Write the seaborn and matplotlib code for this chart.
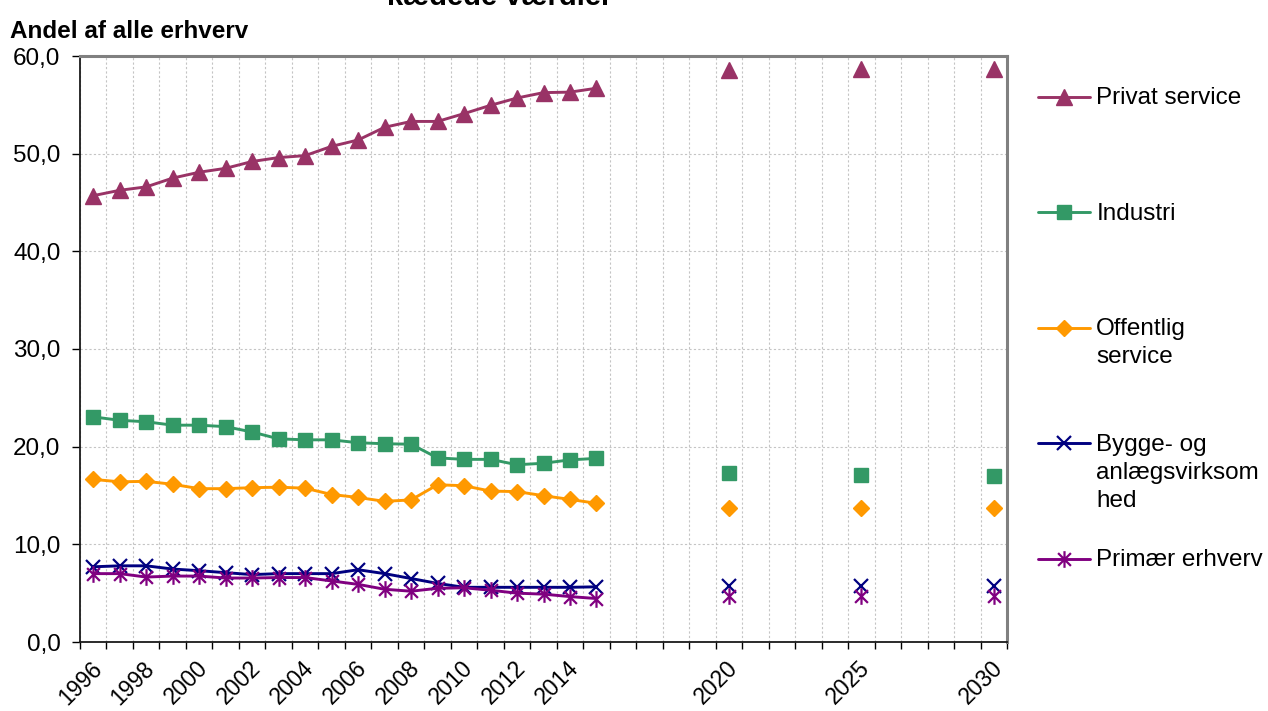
import matplotlib
matplotlib.use("Agg")
import matplotlib.pyplot as plt
import matplotlib.transforms as mtransforms
from matplotlib.path import Path
from matplotlib.ticker import FixedLocator, FixedFormatter
import numpy as np
import pandas as pd
import seaborn as sns

# ---------------- data ----------------
years_hist = [1996, 1997, 1998, 1999, 2000, 2001, 2002, 2003, 2004, 2005,
              2006, 2007, 2008, 2009, 2010, 2011, 2012, 2013, 2014, 2015]
years_proj = [2020, 2025, 2030]

privat_hist = [45.7, 46.25, 46.6, 47.5, 48.1, 48.5, 49.2, 49.6, 49.8, 50.75,
               51.4, 52.7, 53.3, 53.3, 54.1, 54.95, 55.7, 56.25, 56.3, 56.7]
privat_proj = [58.6, 58.7, 58.7]

industri_hist = [23.05, 22.7, 22.55, 22.2, 22.2, 22.05, 21.5, 20.8, 20.7, 20.7,
                 20.4, 20.3, 20.25, 18.85, 18.7, 18.7, 18.15, 18.3, 18.65, 18.8]
industri_proj = [17.3, 17.05, 16.95]

offentlig_hist = [16.65, 16.4, 16.45, 16.15, 15.7, 15.7, 15.8, 15.85, 15.75, 15.1,
                  14.8, 14.4, 14.55, 16.1, 16.0, 15.45, 15.4, 14.98, 14.6, 14.2]
offentlig_proj = [13.7, 13.75, 13.75]

bygge_hist = [7.7, 7.8, 7.8, 7.47, 7.3, 7.1, 6.9, 7.0, 7.0, 7.0,
              7.4, 7.0, 6.5, 6.0, 5.6, 5.6, 5.6, 5.6, 5.6, 5.65]
bygge_proj = [5.77, 5.77, 5.77]

primaer_hist = [7.0, 7.0, 6.65, 6.75, 6.75, 6.55, 6.55, 6.6, 6.6, 6.25,
                5.9, 5.4, 5.2, 5.5, 5.55, 5.3, 5.0, 4.9, 4.65, 4.45]
primaer_proj = [4.76, 4.76, 4.76]

series_names = ["Privat service", "Industri", "Offentlig\nservice",
                "Bygge- og\nanlægsvirksom\nhed", "Primær erhverv"]
hist_values = [privat_hist, industri_hist, offentlig_hist, bygge_hist, primaer_hist]
proj_values = [privat_proj, industri_proj, offentlig_proj, bygge_proj, primaer_proj]

tick_years = [1996, 1998, 2000, 2002, 2004, 2006, 2008, 2010, 2012, 2014,
              2020, 2025, 2030]
tick_labels = [str(y) for y in tick_years]
y_ticks = [0, 10, 20, 30, 40, 50, 60]
y_tick_labels = ["0,0", "10,0", "20,0", "30,0", "40,0", "50,0", "60,0"]

y_axis_title = "Andel af alle erhverv"
chart_title = "kædede værdier"

# ---------------- style ----------------
sns.set_theme(style="white")
plt.rcParams["font.family"] = ["Liberation Sans", "DejaVu Sans"]
plt.rcParams["text.color"] = "black"
plt.rcParams["axes.labelcolor"] = "black"
plt.rcParams["xtick.color"] = "black"
plt.rcParams["ytick.color"] = "black"

colors = ["#993366", "#339966", "#FF9900", "#000080", "#800080"]
asterisk = Path([(-1, -1), (1, 1), (-1, 1), (1, -1), (0, -1.3), (0, 1.3)],
                [Path.MOVETO, Path.LINETO, Path.MOVETO, Path.LINETO,
                 Path.MOVETO, Path.LINETO])
markers = ["^", "s", "D", "x", asterisk]
msizes = [11, 10.5, 8, 10, 12]
mews = [1, 1, 1, 1.6, 1.6]

FS = 17.5
FSX = 16.5

fig = plt.figure(figsize=(12.68, 7.11), dpi=100)
ax = fig.add_axes([80 / 1268, 69 / 711, 927 / 1268, 586 / 711])

handles = []
for name, hv, pv, c, m, ms, mew in zip(series_names, hist_values, proj_values,
                                       colors, markers, msizes, mews):
    df_h = pd.DataFrame({"year": years_hist, "value": hv})
    df_p = pd.DataFrame({"year": years_proj, "value": pv})
    sns.lineplot(data=df_h, x="year", y="value", ax=ax, color=c, linewidth=2.1,
                 marker=m, markersize=ms, markeredgecolor=c, markerfacecolor=c,
                 markeredgewidth=mew, label=name, legend=False, zorder=3)
    handles.append(ax.get_lines()[-1])
    sns.lineplot(data=df_p, x="year", y="value", ax=ax, color=c, linestyle="",
                 marker=m, markersize=ms, markeredgecolor=c, markerfacecolor=c,
                 markeredgewidth=mew, legend=False, zorder=3)

# axes limits & ticks
ax.set_xlim(1995.5, 2030.5)
ax.set_ylim(0, 60)
ax.xaxis.set_major_locator(FixedLocator(tick_years))
ax.xaxis.set_major_formatter(FixedFormatter(tick_labels))
ax.xaxis.set_minor_locator(FixedLocator(np.arange(1995.5, 2031, 1.0)))
ax.yaxis.set_major_locator(FixedLocator(y_ticks))
ax.yaxis.set_major_formatter(FixedFormatter(y_tick_labels))

ax.tick_params(axis="x", which="major", length=0, pad=16.5, labelsize=FSX,
               labelcolor="black", labelrotation=45)
ax.tick_params(axis="x", which="minor", length=5, width=1, color="black",
               direction="out", bottom=True)
ax.tick_params(axis="y", which="major", length=6, width=1, color="black",
               direction="out", left=True, pad=8, labelsize=FS, labelcolor="black")
offset = mtransforms.ScaledTranslation(5 / 100, 0, fig.dpi_scale_trans)
for lab in ax.get_xticklabels():
    lab.set_ha("right")
    lab.set_va("center")
    lab.set_rotation_mode("anchor")
    lab.set_fontsize(FSX)
    lab.set_transform(lab.get_transform() + offset)

ax.set_xlabel("")
ax.set_ylabel("")

ax.grid(False)
ax.grid(True, axis="x", which="minor", color="#c4c4c4", linestyle=(0, (2, 2)),
        linewidth=0.8, zorder=0)
ax.grid(True, axis="y", which="major", color="#c4c4c4", linestyle=(0, (2, 2)),
        linewidth=0.8, zorder=0)
ax.set_axisbelow(True)

for s in ["left", "bottom"]:
    ax.spines[s].set_color("#1a1a1a")
    ax.spines[s].set_linewidth(1.3)
for s in ["top", "right"]:
    ax.spines[s].set_color("#808080")
    ax.spines[s].set_linewidth(2.2)

# texts
fig.text(10 / 1268, 1 - 38 / 711, y_axis_title, fontsize=FS, fontweight="bold",
         ha="left", va="baseline", color="black")
fig.text(500 / 1268, 1 - 5 / 711, chart_title, fontsize=21, fontweight="bold",
         ha="center", va="baseline", color="black")

# legend: one block per entry, first line aligned with the handle
first_line_centers = [96, 211.5, 327, 442.5, 558]
for h, name, yc in zip(handles, series_names, first_line_centers):
    leg = fig.legend([h], [name], loc="upper left",
                     bbox_to_anchor=(1038 / 1268, 1 - (yc - 9) / 711),
                     frameon=False, fontsize=FS, borderpad=0, borderaxespad=0,
                     handlelength=2.15, handletextpad=0.25, handleheight=1.1,
                     labelcolor="black")
    for t in leg.get_texts():
        t.set_linespacing(1.37)
    for col in leg._legend_handle_box.get_children():
        for hp in col.get_children():
            hp.align = "top"

fig.savefig("out.png", dpi=100)
